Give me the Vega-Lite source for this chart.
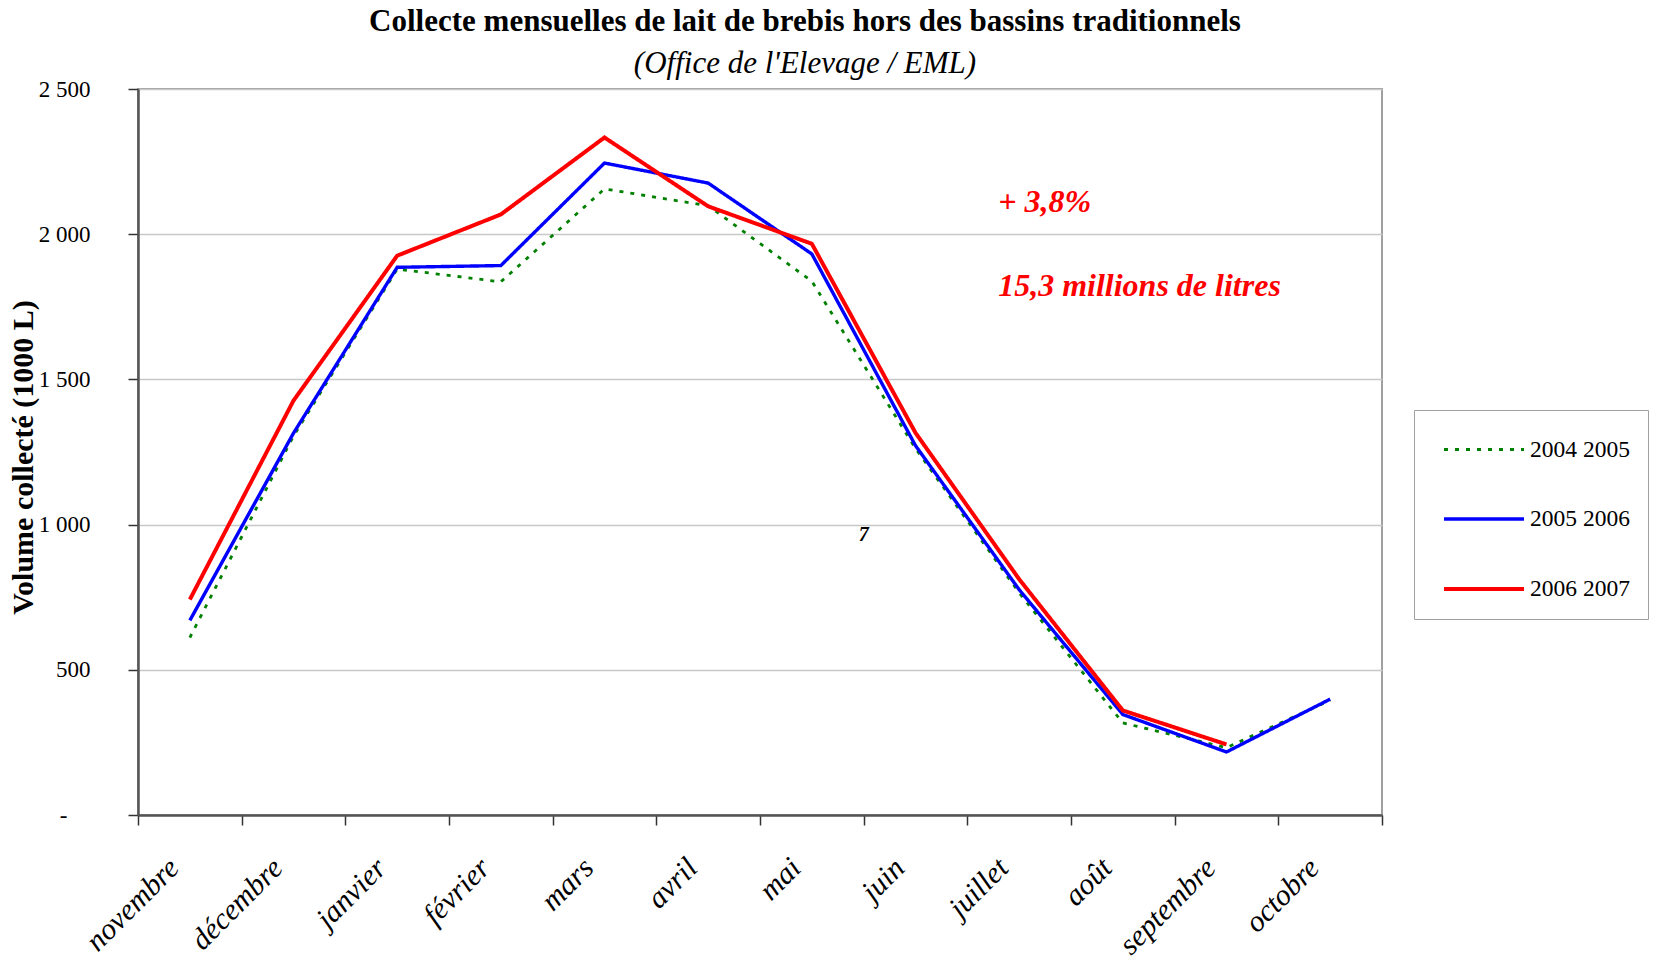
{
  "$schema": "https://vega.github.io/schema/vega-lite/v6.json",
  "width": 1244,
  "height": 726,
  "autosize": "none",
  "padding": {"left": 138, "top": 89, "right": 275, "bottom": 149},
  "background": "white",
  "title": {
    "text": "Collecte mensuelles de lait de brebis hors des bassins traditionnels",
    "subtitle": "(Office de l'Elevage / EML)",
    "font": "Liberation Serif",
    "fontSize": 31,
    "fontWeight": "bold",
    "color": "black",
    "subtitleFont": "Liberation Serif",
    "subtitleFontSize": 31,
    "subtitleFontStyle": "italic",
    "subtitleColor": "black",
    "subtitlePadding": 11,
    "offset": -2,
    "dx": 45,
    "anchor": "middle"
  },
  "config": {
    "view": {"stroke": "#a0a0a0", "strokeWidth": 2},
    "font": "Liberation Serif"
  },
  "datasets": {
    "collecte": [
      {"month": "novembre", "series": "2004 2005", "volume": 611},
      {"month": "décembre", "series": "2004 2005", "volume": 1305},
      {"month": "janvier", "series": "2004 2005", "volume": 1880},
      {"month": "février", "series": "2004 2005", "volume": 1836},
      {"month": "mars", "series": "2004 2005", "volume": 2156},
      {"month": "avril", "series": "2004 2005", "volume": 2098},
      {"month": "mai", "series": "2004 2005", "volume": 1838},
      {"month": "juin", "series": "2004 2005", "volume": 1262},
      {"month": "juillet", "series": "2004 2005", "volume": 765},
      {"month": "août", "series": "2004 2005", "volume": 317},
      {"month": "septembre", "series": "2004 2005", "volume": 232},
      {"month": "octobre", "series": "2004 2005", "volume": 395},
      {"month": "novembre", "series": "2005 2006", "volume": 670},
      {"month": "décembre", "series": "2005 2006", "volume": 1315},
      {"month": "janvier", "series": "2005 2006", "volume": 1886},
      {"month": "février", "series": "2005 2006", "volume": 1892},
      {"month": "mars", "series": "2005 2006", "volume": 2245},
      {"month": "avril", "series": "2005 2006", "volume": 2176},
      {"month": "mai", "series": "2005 2006", "volume": 1932},
      {"month": "juin", "series": "2005 2006", "volume": 1272},
      {"month": "juillet", "series": "2005 2006", "volume": 776},
      {"month": "août", "series": "2005 2006", "volume": 346},
      {"month": "septembre", "series": "2005 2006", "volume": 217},
      {"month": "octobre", "series": "2005 2006", "volume": 399},
      {"month": "novembre", "series": "2006 2007", "volume": 742},
      {"month": "décembre", "series": "2006 2007", "volume": 1427},
      {"month": "janvier", "series": "2006 2007", "volume": 1926},
      {"month": "février", "series": "2006 2007", "volume": 2068},
      {"month": "mars", "series": "2006 2007", "volume": 2333},
      {"month": "avril", "series": "2006 2007", "volume": 2096},
      {"month": "mai", "series": "2006 2007", "volume": 1967},
      {"month": "juin", "series": "2006 2007", "volume": 1316},
      {"month": "juillet", "series": "2006 2007", "volume": 812},
      {"month": "août", "series": "2006 2007", "volume": 360},
      {"month": "septembre", "series": "2006 2007", "volume": 243}
    ],
    "notes": [
      {"month": "juillet", "volume": 2078, "label": "+ 3,8%"},
      {"month": "juillet", "volume": 1787, "label": "15,3 millions de litres"}
    ],
    "stray": [
      {"month": "juin", "volume": 965, "label": "7"}
    ]
  },
  "layer": [
    {
      "data": {"name": "collecte"},
      "mark": {"type": "line", "strokeCap": "butt", "strokeJoin": "miter"},
      "encoding": {
        "x": {
          "field": "month",
          "type": "ordinal",
          "sort": ["novembre", "décembre", "janvier", "février", "mars", "avril", "mai", "juin", "juillet", "août", "septembre", "octobre"],
          "scale": {"type": "band", "paddingInner": 0, "paddingOuter": 0, "domain": ["novembre", "décembre", "janvier", "février", "mars", "avril", "mai", "juin", "juillet", "août", "septembre", "octobre"]},
          "bandPosition": 0.5,
          "axis": {
            "title": null,
            "labelFont": "Liberation Serif",
            "labelFontSize": 30,
            "labelFontStyle": "italic",
            "labelColor": "black",
            "labelAngle": -45,
            "labelAlign": "right",
            "labelBaseline": "middle",
            "labelPadding": 38,
            "labelOffset": -16,
            "labelOverlap": false,
            "labelBound": false,
            "tickBand": "extent",
            "ticks": true,
            "tickSize": 10,
            "tickColor": "#333333",
            "tickWidth": 1.5,
            "domainColor": "#555555",
            "domainWidth": 2.5,
            "grid": false
          }
        },
        "y": {
          "field": "volume",
          "type": "quantitative",
          "scale": {"domain": [0, 2500], "nice": false},
          "axis": {
            "title": "Volume collecté (1000 L)",
            "titleFont": "Liberation Serif",
            "titleFontSize": 30,
            "titleFontWeight": "bold",
            "titleColor": "black",
            "titleX": -115,
            "titleY": 368,
            "titleAngle": -90,
            "titleAlign": "center",
            "titleBaseline": "middle",
            "values": [0, 500, 1000, 1500, 2000, 2500],
            "labelExpr": "datum.value == 0 ? '-' : replace(format(datum.value, ','), ',', '\u00a0')",
            "labelFont": "Liberation Serif",
            "labelFontSize": 23,
            "labelColor": "black",
            "labelPadding": {"condition": {"test": "datum.value == 0", "value": 61}, "value": 38},
            "tickSize": 10,
            "tickColor": "#333333",
            "tickWidth": 1.5,
            "domainColor": "#555555",
            "domainWidth": 2.5,
            "grid": true,
            "gridColor": "#c8c8c8",
            "gridWidth": 1.5
          }
        },
        "color": {
          "field": "series",
          "type": "nominal",
          "scale": {"domain": ["2004 2005", "2005 2006", "2006 2007"], "range": ["#008000", "#0000ff", "#ff0000"]},
          "legend": {
            "title": null,
            "orient": "none",
            "legendX": 1276,
            "legendY": 321,
            "symbolType": "M-2,0H2",
            "symbolSize": 1600,
            "symbolOffset": 30,
            "labelFont": "Liberation Serif",
            "labelFontSize": 23.5,
            "labelColor": "black",
            "labelOffset": 24,
            "rowPadding": 36,
            "padding": 18,
            "strokeColor": "#a0a0a0",
            "fillColor": "white"
          }
        },
        "strokeDash": {
          "field": "series",
          "type": "nominal",
          "scale": {"domain": ["2004 2005", "2005 2006", "2006 2007"], "range": [[4, 7], [1, 0], [1, 0]]}
        },
        "strokeWidth": {
          "field": "series",
          "type": "nominal",
          "scale": {"domain": ["2004 2005", "2005 2006", "2006 2007"], "range": [2.8, 4, 4]}
        }
      }
    },
    {
      "data": {"name": "notes"},
      "mark": {"type": "text", "font": "Liberation Serif", "fontSize": 32, "fontWeight": "bold", "fontStyle": "italic", "color": "#ff0000", "align": "left", "baseline": "alphabetic", "dx": -21},
      "encoding": {
        "x": {"field": "month", "type": "ordinal", "sort": ["novembre", "décembre", "janvier", "février", "mars", "avril", "mai", "juin", "juillet", "août", "septembre", "octobre"], "bandPosition": 0.5},
        "y": {"field": "volume", "type": "quantitative"},
        "text": {"field": "label"}
      }
    },
    {
      "data": {"name": "stray"},
      "mark": {"type": "text", "font": "Liberation Serif", "fontSize": 20, "fontWeight": "bold", "fontStyle": "italic", "color": "black", "align": "center", "baseline": "middle"},
      "encoding": {
        "x": {"field": "month", "type": "ordinal", "sort": ["novembre", "décembre", "janvier", "février", "mars", "avril", "mai", "juin", "juillet", "août", "septembre", "octobre"], "bandPosition": 0},
        "y": {"field": "volume", "type": "quantitative"},
        "text": {"field": "label"}
      }
    }
  ]
}
